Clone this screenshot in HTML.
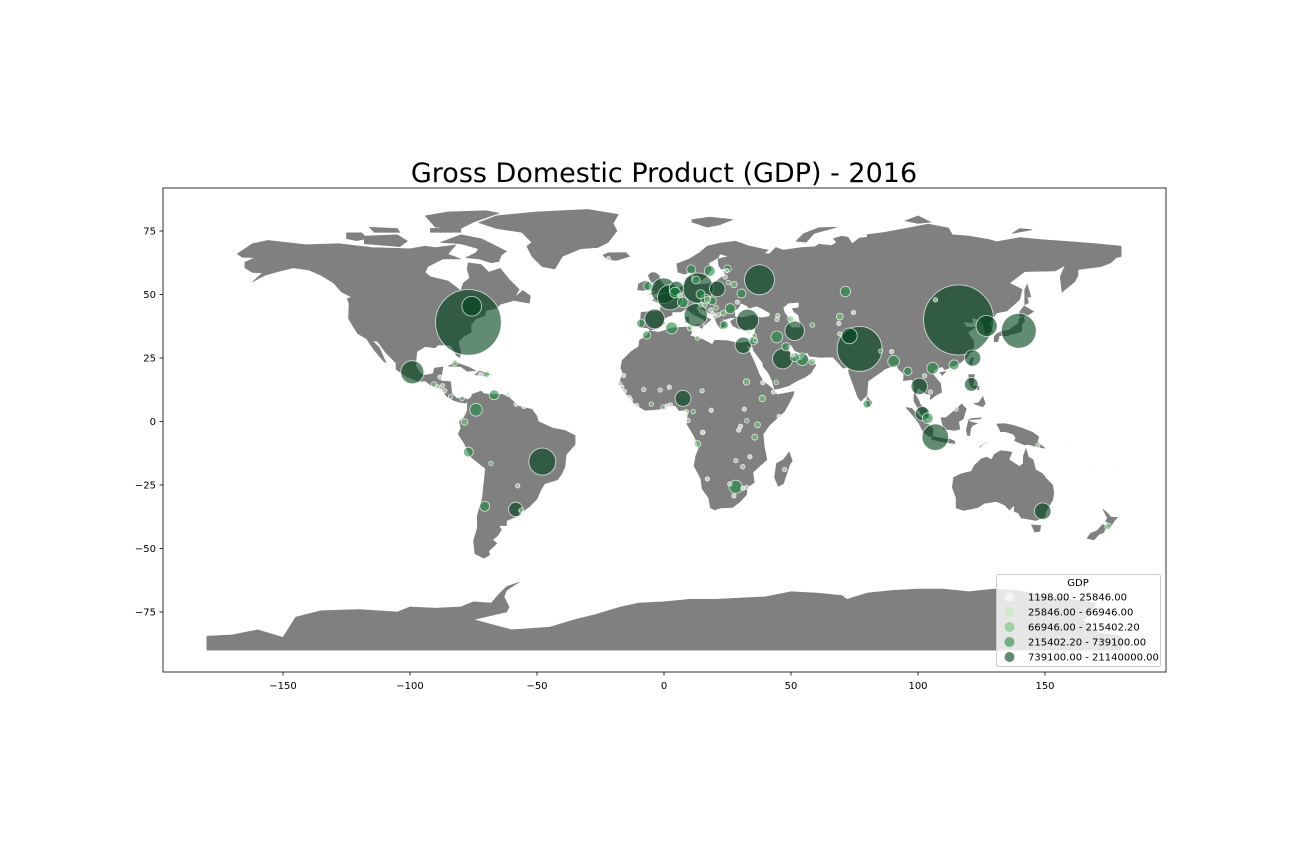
<!DOCTYPE html>
<html><head><meta charset="utf-8"><style>
body{margin:0;background:#fff;}
svg{display:block;font-family:"DejaVu Sans","Liberation Sans",sans-serif;}
</style></head><body>
<svg id="chart" width="1296" height="864" viewBox="0 0 1296 864" xmlns="http://www.w3.org/2000/svg">
<rect width="1296" height="864" fill="#fff"/>
<text x="664" y="182" font-size="27" text-anchor="middle" fill="#000">Gross Domestic Product (GDP) - 2016</text>
<defs><clipPath id="pa"><rect x="163" y="188" width="1003" height="484"/></clipPath></defs>
<g id="land" clip-path="url(#pa)"></g>
<g id="bubbles" clip-path="url(#pa)"></g>
<rect x="163" y="188" width="1003" height="484" fill="none" stroke="#000" stroke-width="0.8"/>
<g id="axes"></g>
<g id="legend"></g>
</svg>
<script>
const xTicks=[-150,-100,-50,0,50,100,150];
const yTicks=[75,50,25,0,-25,-50,-75];
const classBreaks=[25846,66946,215402.2,739100];
const legendLabels=["1198.00 - 25846.00","25846.00 - 66946.00","66946.00 - 215402.20","215402.20 - 739100.00","739100.00 - 21140000.00"];
const countries=["China","USA","India","Japan","Germany","Russia","Brazil","Indonesia","UK","France","Italy","Mexico","Turkey","South Korea","Saudi Arabia","Spain","Canada","Iran","Australia","Thailand","Egypt","Taiwan","Nigeria","Poland","Pakistan","Argentina","Netherlands","Malaysia","Philippines","South Africa","Colombia","UAE","Algeria","Vietnam","Bangladesh","Iraq","Belgium","Switzerland","Singapore","Sweden","Kazakhstan","Romania","Chile","Venezuela","Austria","Ukraine","Peru","Norway","Czechia","Qatar","Greece","Portugal","Israel","Denmark","Hong Kong","Morocco","Ireland","Hungary","Sri Lanka","Myanmar","Kuwait","Ethiopia","Finland","Kenya","Angola","Uzbekistan","Dominican Rep","Ecuador","New Zealand","Belarus","Azerbaijan","Oman","Tanzania","Ghana","Bulgaria","Serbia","Turkmenistan","Cuba","Guatemala","Tunisia","Sudan","Libya","Slovakia","Lithuania","Cote d'Ivoire","Panama","Croatia","Jordan","Bolivia","Uruguay","Cameroon","Costa Rica","Lebanon","Slovenia","Uganda","Yemen","Nepal","Paraguay","DR Congo","Latvia","Bahrain","Afghanistan","Zambia","Cambodia","Estonia","Honduras","El Salvador","Georgia","Senegal","Botswana","Trinidad","Bosnia","Laos","Mali","Zimbabwe","Mozambique","Madagascar","Armenia","Burkina Faso","Mongolia","Albania","N Macedonia","Jamaica","Nicaragua","Namibia","Niger","Chad","Kyrgyzstan","Tajikistan","Moldova","Mauritania","Rwanda","Guinea","Benin","Haiti","Malawi","Sierra Leone","Togo","Papua NG","Somalia","South Sudan","Gabon","Congo","CAR","Burundi","Eritrea","Liberia","Lesotho","Eswatini","Fiji","Belize","Guyana","Suriname","Bhutan","Timor-Leste","Gambia","Guinea-Bissau","Djibouti","Iceland","Cyprus","Luxembourg","Montenegro","Eq Guinea","Solomon Is","Vanuatu","Brunei"];
const lons=[116,-77,77,139.7,13.4,37.6,-47.9,106.8,-0.1,2.35,12.5,-99.1,32.9,127,46.7,-3.7,-75.7,51.4,149.1,100.5,31.2,121.5,7.5,21,73,-58.4,4.9,101.7,121,28.2,-74,54.4,3,105.8,90.4,44.4,4.35,7.4,103.8,18,71.4,26.1,-70.6,-66.9,16.4,30.5,-77,10.7,14.4,51.5,23.7,-9.1,35.2,12.6,114.2,-6.8,-6.3,19,79.9,96,48,38.7,25,36.8,13.2,69.2,-69.9,-78.5,174.8,27.6,49.9,58.4,35.7,-0.2,23.3,20.5,58.4,-82.4,-90.5,10.2,32.5,13.2,17.1,25.3,-5,-79.5,16,35.9,-68.1,-56.2,11.5,-84,35.5,14.5,32.6,44.2,85.3,-57.6,15.3,24.1,50.6,69.2,28.3,104.9,24.7,-87.2,-89.2,44.8,-17.4,25.9,-61.5,18.4,102.6,-8,31,32.6,47.5,44.5,-1.5,106.9,19.8,21.4,-76.8,-86.3,17.1,2.1,15,74.6,68.8,28.9,-15.9,30.1,-13.7,2.6,-72.3,33.8,-13.2,1.2,147.2,45.3,31.6,9.5,15.2,18.6,29.4,38.9,-10.8,27.5,31.1,178.4,-88.2,-58.2,-55.2,89.6,125.6,-16.6,-15.6,43.1,-21.9,33.4,6.1,19.3,8.8,160,168.3,115];
const lats=[40,39,28.6,35.7,52.5,55.8,-15.8,-6.2,51.5,48.9,41.9,19.4,39.9,37.6,24.7,40.4,45.4,35.7,-35.3,13.8,30,25,9.1,52.2,33.7,-34.6,52.4,3.1,14.6,-25.7,4.6,24.5,36.8,21,23.7,33.3,50.8,46.9,1.3,59.3,51.2,44.4,-33.4,10.5,48.2,50.4,-12,59.9,50.1,25.3,38,38.7,31.8,55.7,22.3,34,53.3,47.5,6.9,19.8,29.4,9,60.2,-1.3,-8.8,41.3,18.5,-0.2,-41.3,53.9,40.4,23.6,-6.2,5.6,42.7,44.8,38,23.1,14.6,36.8,15.6,32.9,48.1,54.7,6.8,9,45.8,31.9,-16.5,-34.9,3.9,9.9,33.9,46,0.3,15.4,27.7,-25.3,-4.3,56.9,26.2,34.5,-15.4,11.6,59.4,14.1,13.7,41.7,14.7,-24.6,10.7,43.9,18,12.6,-17.8,-25.9,-18.9,40.2,12.4,47.9,41.3,42,18,12.1,-22.6,13.5,12.1,42.9,38.6,47,18.1,-1.9,9.5,6.5,18.5,-13.9,8.5,6.1,-9.4,2,4.9,0.4,-4.3,4.4,-3.4,15.3,6.3,-29.3,-26.3,-18.1,17.5,6.8,5.9,27.5,-8.6,13.5,11.9,11.6,64.1,35.2,49.6,42.4,3.8,-9.4,-17.7,4.9];
const gdp=[21140000,18620000,8720000,5240000,3980000,3860000,3140000,3030000,2790000,2740000,2310000,2310000,2080000,1930000,1760000,1690000,1670000,1640000,1190000,1160000,1130000,1130000,1090000,1050000,1060000,880000,870000,864000,806000,739000,690000,667000,610000,595000,590000,596000,500000,490000,490000,498000,460000,450000,436000,420000,416000,350000,409000,364000,350000,340000,290000,300000,300000,270000,430000,280000,330000,270000,260000,300000,300000,180000,230000,150000,190000,200000,160000,180000,180000,170000,170000,180000,150000,120000,140000,100000,95000,130000,130000,130000,180000,90000,170000,85000,90000,90000,95000,85000,78000,75000,75000,80000,85000,68000,80000,75000,70000,65000,65000,50000,65000,65000,62000,58000,38000,43000,50000,37000,38000,36000,42000,42000,41000,37000,30000,35000,36000,26000,32000,36000,34000,30000,25000,33000,25000,20000,28000,21000,25000,19000,16000,21000,22000,23000,19000,20000,11000,11000,28000,6000,20000,35000,28000,3200,8000,9000,3700,6600,11000,8500,3000,6000,8000,6400,4000,3000,2800,3300,17000,30000,60000,10000,31000,1198,1200,33000];

const NS="http://www.w3.org/2000/svg";
const X0=664,Y0=421.5,K=2.54;
function px(lon){return X0+lon*K;}
function py(lat){return Y0-lat*K;}
function mk(tag,attrs,parent){const e=document.createElementNS(NS,tag);for(const k in attrs)e.setAttribute(k,attrs[k]);parent.appendChild(e);return e;}

const landShapes={
"north-america":[[-168,66],[-162,70],[-156,71.3],[-141,69.6],[-128,70],[-115,68.5],[-100,68],[-94,69],[-90,68.5],[-82,69.5],[-85,66],[-87,64],[-93,61],[-94,58.7],[-92,57],[-85,55.3],[-82,53],[-80,51.5],[-79,54.5],[-76.5,56.5],[-77.5,60],[-77,62.5],[-72,61.8],[-69,58.8],[-64.5,60.3],[-61,56],[-57,52],[-59.5,47.5],[-64.5,46.2],[-66,44.5],[-70,43.7],[-70.5,41.7],[-74,40.5],[-76,38],[-76,35],[-78.5,33.8],[-81,31.5],[-80,27],[-80.4,25.2],[-81.7,26],[-82.8,28],[-84,30],[-89,30.2],[-90,29],[-94,29.5],[-97.3,27.5],[-97.8,22],[-96,19],[-94.5,18.2],[-91,18.8],[-90.4,21],[-87,21.5],[-88,16],[-84,15.7],[-83.5,11],[-81.5,9],[-79,9.5],[-77.3,8.5],[-77.9,7.2],[-80,7.5],[-82.5,8.2],[-85.7,10],[-87.5,13],[-91.5,14],[-94,16],[-96.5,15.7],[-101,17.5],[-105.5,20.5],[-105.5,23],[-109.5,27],[-112.8,31.5],[-114.8,31.8],[-112,29],[-109.5,23.2],[-110.2,23.5],[-114,28],[-117.1,32.5],[-120.6,34.6],[-122.5,37.6],[-124.2,40.5],[-124,46.3],[-124.7,48.4],[-123,49],[-127,51],[-130,54.5],[-135,57.5],[-140,59.7],[-146,60.5],[-152,59],[-157,57.6],[-162,55],[-158,58.5],[-162,58.7],[-165,60.5],[-165,62.7],[-161,64.5],[-166,64.7],[-168,66]],
"greenland":[[-73,78.3],[-66,81],[-50,82.5],[-30,83.5],[-18,81.5],[-20,78],[-18.5,75],[-22,70.5],[-26,68.5],[-33,68],[-40,65],[-43,60],[-48,61],[-52,65],[-54,69],[-52,70.5],[-56,74.5],[-66,76],[-73,78.3]],
"baffin":[[-80,73.5],[-72,72],[-68,70],[-62,67],[-64,65.5],[-65,63],[-68,62.5],[-73,64],[-78,64.5],[-74,66.5],[-73,68],[-80,70],[-88,70.5],[-80,73.5]],
"victoria":[[-118,73],[-105,73.5],[-101,71],[-104,68.8],[-112,69.5],[-118,70],[-118,73]],
"ellesmere":[[-90,76.5],[-80,76],[-75,78.5],[-65,82],[-70,83],[-85,82.5],[-94,81],[-90,76.5]],
"banks":[[-125,74.3],[-119,74.3],[-117,72],[-121,71.2],[-125,72],[-125,74.3]],
"devon":[[-92,76],[-80,76.5],[-80,74.5],[-92,74.5]],
"melville":[[-116,76.5],[-105,76],[-104,74.5],[-114,74.5]],
"southampton":[[-87,64],[-80,64],[-85,65.8]],
"newfoundland":[[-59,47.6],[-53,46.6],[-52.6,49.4],[-55.6,51.6],[-58.8,48.8]],
"south-america":[[-77.3,8.5],[-76,9.5],[-75.5,10.7],[-72,12],[-71,11],[-68,10.6],[-64,10.7],[-61.5,10],[-60,8.5],[-57,6],[-52,4.8],[-50,2],[-49.5,0],[-44,-2.5],[-39,-3.5],[-35,-5.5],[-35,-9],[-38.5,-13],[-39,-18],[-40.5,-21],[-42,-23],[-47,-24.5],[-48.5,-27],[-50,-30.5],[-53,-33.5],[-55,-35],[-58,-34.5],[-57,-37],[-62,-39],[-62,-41],[-65,-41],[-64,-42.5],[-65.5,-45],[-67.5,-46.5],[-65.8,-48],[-69,-51],[-68.6,-52.5],[-71,-53.8],[-74.5,-52],[-75,-47],[-73.5,-42],[-73.5,-37],[-71.5,-30],[-70.3,-18.5],[-76,-14],[-79,-8],[-81,-5],[-80,-2.5],[-80.5,0],[-78.8,1.5],[-77.5,4],[-77.3,8.5]],
"africa":[[-17,21],[-16.5,24],[-13,27.5],[-10,29.5],[-9.6,32],[-6.5,34],[-5.8,35.8],[-2,35.1],[3,36.8],[10,37.3],[11,35],[10.2,33.8],[15.3,32.3],[19,30.3],[20,32],[25,31.8],[29,30.9],[32.5,31.2],[34.2,31.2],[34.9,29.5],[32.5,29.8],[35.5,23.5],[37.5,18.5],[39,16],[43.2,12.5],[44.5,10.5],[51.2,11.8],[51,10.5],[47.5,4],[41.5,-1.5],[39,-5],[39.5,-10],[40.5,-15],[35,-20],[35.5,-24],[32.8,-26],[32.5,-28.8],[30,-31.5],[27,-33.8],[22.5,-34],[20,-34.8],[18.3,-34],[17.5,-30],[15,-26.5],[14.5,-22.5],[11.8,-17.5],[12.5,-13.5],[13.7,-10.5],[12,-6],[9,-1],[9.5,3.5],[8.5,4.5],[5.9,4.3],[4.5,6.3],[1.5,6],[-2,4.8],[-7.5,4.4],[-11.5,6.9],[-13.3,9],[-15,11],[-16.8,13.2],[-17.5,14.7],[-16.3,19.5],[-17,21]],
"madagascar":[[49.3,-12],[50.5,-15.5],[49.5,-17],[47,-24.5],[45,-25.5],[43.5,-22],[44.3,-16.5],[47,-15],[49.3,-12]],
"eurasia":[[-9.5,37],[-9,43],[-1.5,43.5],[-1.2,46.2],[-4.5,47.8],[-1.5,49.5],[2,51],[4,51.5],[8.5,53.8],[8.6,56.5],[10.5,57.7],[10.5,55],[12.5,54.4],[14,53.9],[19,54.4],[21.2,55.7],[23,57],[24.3,57.5],[23.5,59.2],[28.5,60],[22.5,60],[21.5,61.5],[21.3,64],[25.5,65],[22,66],[21.3,64.5],[17.5,62.3],[18.8,60],[16.5,57],[14.5,55.5],[12.5,56.5],[10.8,59],[8,58],[5.5,58.8],[5,62],[10,64],[14,66.5],[17,69],[22,70.2],[28,71],[31,70],[33,69.2],[41,67.5],[38,65],[37,64],[34.5,65.5],[35.5,66.5],[41.5,66],[44,68.5],[47,67.5],[54,68.5],[59.5,68.8],[61,69.8],[66,69.3],[68,70.5],[66.7,72],[70,73],[72.5,72.5],[74,70],[77,72.3],[80,72.5],[80,73.6],[87,74.5],[95,76],[104,77.7],[112,76.2],[113.5,73.5],[120,73],[128,71.6],[131,70.8],[140,72.4],[150,71.5],[160,70.8],[170,70],[180,69],[180,65],[178,64.5],[176,62.5],[172,61],[163,59.8],[163,57.5],[161.7,55],[156.7,51],[156,57],[158,61.5],[154,59.3],[142,59],[136,54.5],[141,52],[140,48],[135,43.5],[131,42.7],[129.6,40.8],[128,39],[129.4,35.5],[126.5,34.5],[126,37.7],[124.5,39.8],[121.2,40.9],[121.5,38.8],[117.8,39.3],[119,37.2],[122.5,37.1],[119.6,35],[121.9,31.7],[122,29],[119.5,25.5],[116.5,23],[110.5,20.3],[109.5,21.6],[106.7,20.5],[105.7,18.7],[108.9,15],[109.3,11.5],[107,10.3],[104.8,8.6],[105,10.5],[103,11],[100,13.5],[99,10.5],[100.3,8.3],[101,6.5],[103.4,4.9],[104.2,1.4],[101.4,2.7],[98.4,8],[98.5,13.5],[97.7,16.5],[94.3,16.1],[94.4,18.8],[92.3,20.7],[91.5,22.6],[90,21.9],[86.7,20.5],[86,19.9],[80.3,15.9],[80.1,13],[79.9,10.3],[77.5,8],[76.3,9.5],[74.5,14.5],[72.8,19],[72.6,21.5],[70.5,21],[68.2,23.6],[66.5,25.4],[61.5,25.2],[57.3,25.7],[56.4,27.1],[54.5,26.6],[51.5,27.9],[50.1,30.1],[48,30],[50.2,26.5],[51.6,25.2],[51.6,24.2],[54,24.1],[56,26.3],[56.4,24.9],[59.8,22.3],[57.8,19],[55.5,17.5],[52.2,15.9],[49,14],[45,12.9],[43.5,12.7],[42.6,16],[40.9,19.5],[39,21.6],[38.9,23],[35.2,28],[34.9,29.5],[34.2,31.2],[35,32.8],[35.8,35],[36,36.9],[32.5,36.1],[29.5,36.5],[27,37.7],[26.2,39.5],[28.8,41],[26,40.8],[24,40.1],[22.7,40.5],[24.5,38],[22.5,36.4],[21,38.3],[19.4,41.8],[15.5,44],[13.7,45.1],[12.3,45.4],[14,42.5],[16.3,41.2],[18.5,40.2],[16,38],[15.9,40],[12.2,41.8],[10.5,43],[8.7,44.4],[6.5,43.1],[3.2,43.2],[3.2,41.9],[0.8,41],[-0.3,39.4],[0.2,38.7],[-2.2,36.7],[-5.3,36],[-6.5,36.9],[-9.5,37]],
"great-britain":[[-5.7,50],[1.5,51.2],[1.7,52.7],[0.2,53.5],[-1.5,55.5],[-2,57.6],[-3.5,58.6],[-5,58.6],[-6.2,57.5],[-5.6,56],[-4.8,54.8],[-3,54],[-4.5,53.2],[-4.5,52],[-5.2,51.7],[-3,51.4],[-5.7,50]],
"ireland":[[-6,52.2],[-6.2,54],[-5.7,55],[-7.5,55.3],[-10,54.2],[-10.4,51.8],[-8,51.6],[-6,52.2]],
"iceland":[[-24,65.5],[-22,66.4],[-15,66.5],[-13.5,65],[-18.7,63.4],[-22.5,63.8],[-24,65.5]],
"honshu":[[130,31.3],[131.5,31.5],[132,33.8],[135,33.7],[136.5,34.3],[139,34.8],[140.8,35.5],[141,38.5],[142,39.5],[141.4,41.4],[139.9,40.5],[139.5,38.5],[137,37],[136,36],[133,35.5],[131,34.5],[130,33.5],[130,31.3]],
"hokkaido":[[140,41.5],[141.4,41.6],[143.5,42],[145.5,43.3],[141.8,45.5],[140,43.2],[140,41.5]],
"sakhalin":[[142,46],[143.5,46.7],[143,49],[144.5,49],[143,54],[142,52],[142,46]],
"taiwan":[[120.1,23],[121,22],[121.9,25],[121,25.1],[120.1,23]],
"hainan":[[108.6,19.2],[111,19.7],[109.5,18.2]],
"sri-lanka":[[79.8,8.2],[80,9.8],[81.8,7.5],[81.3,6.2],[80.1,6],[79.8,8.2]],
"sumatra":[[95.3,5.5],[97.5,5.2],[100.5,2],[104,-1],[106,-3],[105.8,-5.8],[104.5,-5.9],[102,-4],[100.5,-1],[98.6,1.7],[95.3,5.5]],
"java":[[105.2,-6.8],[106,-5.9],[110.5,-6.9],[112.6,-6.9],[114.5,-7.8],[114.5,-8.7],[110,-8.1],[106.4,-7.3],[105.2,-6.8]],
"borneo":[[109,1.5],[109.6,-1],[110.2,-3],[114.5,-3.5],[116.5,-3],[116,0],[117.8,1],[119,5],[117.2,6.9],[115.5,5.3],[113,3.2],[111,1.5],[109,1.5]],
"sulawesi":[[119.5,-5.5],[120.4,-5.5],[120.8,-2.6],[121.6,-1.5],[123.3,-0.8],[120.5,-0.1],[120,0.7],[124.5,1],[125,1.5],[120.8,1.2],[119.8,0],[119,-3.5],[119.5,-5.5]],
"new-guinea":[[131,-1],[134,-0.8],[137.5,-1.5],[141,-2.6],[145,-4.2],[147.5,-6],[147,-8],[150,-10.5],[147,-10],[143.5,-9],[142,-9.2],[139,-8],[138,-7.5],[138.5,-6.5],[137.5,-5],[134.5,-4],[132.5,-4],[132,-2.8],[131,-1]],
"timor":[[124,-10.2],[127,-8.4],[125,-9.5]],
"luzon":[[120,18.5],[122.2,18.5],[122,16],[121.5,14],[124,13.8],[124,12.5],[121,13.5],[120.6,14.5],[120,16],[120,18.5]],
"mindanao":[[122,7],[124,7.5],[125.5,9.8],[126.5,7],[125.5,5.8],[124,6.3],[122,7]],
"australia":[[114,-22],[113.5,-26],[115,-30],[115,-34],[118,-35],[123.5,-33.9],[126,-32.3],[131,-31.5],[134,-32.8],[136,-34.8],[137.8,-33],[138,-35.5],[139.5,-36],[140.6,-38],[144,-38.5],[146.3,-39],[150,-37.5],[150.2,-35.7],[153,-31],[153.5,-28],[153,-25],[150.5,-22.5],[149,-20.5],[146.3,-19],[145.3,-15],[143.5,-14],[142.5,-10.7],[141.5,-13.5],[141.4,-16.5],[140,-17.7],[137,-15.8],[135.8,-15],[137,-12.2],[136,-11.9],[132.5,-11.5],[130,-13],[129,-15],[127,-14],[125,-14.6],[122.2,-17.3],[121,-19.6],[117,-20.6],[114,-22]],
"tasmania":[[144.7,-40.7],[148.3,-40.9],[148,-43.2],[146,-43.6],[144.7,-40.7]],
"nz-north":[[172.7,-34.5],[174.5,-36],[176,-37.6],[178.5,-37.7],[177,-39.5],[176,-41.3],[175,-41.5],[174.6,-39.7],[173.8,-39.2],[174.6,-38],[172.7,-34.5]],
"nz-south":[[172.7,-40.5],[174.3,-41.3],[173,-43.8],[171.2,-44.5],[169.3,-46.6],[166.5,-46],[168,-44],[170.5,-43],[172.7,-40.5]],
"antarctica":[[-180,-90],[-180,-84.5],[-170,-84],[-160,-82],[-150,-85],[-145,-77],[-135,-74.5],[-120,-74],[-105,-75],[-100,-73],[-90,-73.5],[-80,-73],[-75,-71],[-68,-71.5],[-65,-68],[-62,-65],[-57,-63.3],[-59,-64.5],[-62,-66.5],[-63,-69],[-61,-73],[-62,-75],[-75,-78],[-60,-82],[-45,-81],[-35,-78],[-27,-76],[-17,-73],[-10,-71.5],[0,-71],[10,-70],[20,-70],[30,-69.5],[40,-69],[50,-67],[60,-67.5],[70,-68.5],[72,-70],[80,-67.5],[90,-66.5],[100,-66],[110,-66],[120,-67],[130,-66],[140,-66.7],[150,-68.5],[160,-70],[170,-71.5],[168,-76],[165,-78],[170,-83],[180,-84.5],[180,-90]],
"svalbard":[[11,78.5],[17,76.5],[22,77.5],[27,79.5],[18,80.5],[11,79.5]],
"novaya-zemlya":[[52,71],[56,70.6],[59,74],[68,76.5],[61,76.3],[55,74],[52,71]],
"severnaya-zemlya":[[95,79],[100,78],[105,78.5],[100,81]],
"new-siberian":[[137,74],[145,75.5],[140,76]],
"cuba":[[-85,21.8],[-82,23.2],[-77,21.5],[-74.2,20],[-77.5,19.8],[-80,21.6],[-85,21.8]],
"hispaniola":[[-74.4,18.4],[-72.8,19.9],[-68.3,18.6],[-71,18],[-74.4,18.4]],
"sardinia":[[8.5,39],[9.8,39],[9.6,41.2],[8.4,41]],
"sicily":[[12.4,38],[15.6,38.2],[15,36.6]]
};
const waterShapes={
"black-sea":[[28,41.3],[31,41.1],[35,42],[38.3,40.9],[41.5,41.5],[41.6,42.6],[38.3,44.5],[36.5,45.3],[33.5,44.5],[32.5,45.5],[30.2,46.5],[29.6,45],[28,43.5],[28,41.3]],
"caspian-sea":[[47,44.8],[49,46.5],[53,46.8],[53,45],[50.3,44.5],[51.2,43],[52.8,41.9],[53.9,37],[50.5,37],[49,38.3],[49.5,40.3],[47.5,43],[47,44.8]]
};
function ptsStr(a){return a.map(p=>px(p[0]).toFixed(1)+","+py(p[1]).toFixed(1)).join(" ");}
const land=document.getElementById('land');
for(const k in landShapes){
  const e=mk('polygon',{points:ptsStr(landShapes[k]),fill:'#808080',stroke:'#808080','stroke-width':'0.6'},land);
  
  
}
for(const k in waterShapes){
  const e=mk('polygon',{points:ptsStr(waterShapes[k]),fill:'#fff'},land);
  
  
}

const fills=['#f7fcf5','#c7e9c0','#74c476','#238b45','#00441b'];
function cls(v){let c=0;for(const b of classBreaks){if(v>b)c++;}return c;}
const maxG=Math.max(...gdp);
function rad(v){return 35*Math.sqrt(v/maxG);}
const bub=document.getElementById('bubbles');
const order=gdp.map((v,i)=>i).sort((a,b)=>gdp[b]-gdp[a]);
for(const i of order){
  const c=cls(gdp[i]);
  const e=mk('circle',{cx:px(lons[i]).toFixed(1),cy:py(lats[i]).toFixed(1),r:Math.max(rad(gdp[i]),2.2).toFixed(2),fill:fills[c],'fill-opacity':'0.62',stroke:'#fff','stroke-opacity':'0.7','stroke-width':'0.9'},bub);
  
  
}

const ax=document.getElementById('axes');
xTicks.forEach(t=>{
  const x=px(t);
  const l=mk('line',{x1:x,x2:x,y1:672,y2:675.5,stroke:'#000','stroke-width':'0.8'},ax);
  
  
  const tx=mk('text',{x:x,y:689,'font-size':'10','text-anchor':'middle',fill:'#000'},ax);
  tx.textContent=(t<0?'\u2212'+(-t):''+t);
  
  
});
yTicks.forEach(t=>{
  const y=py(t);
  const l=mk('line',{x1:159.5,x2:163,y1:y,y2:y,stroke:'#000','stroke-width':'0.8'},ax);
  
  
  const tx=mk('text',{x:156,y:y+3.5,'font-size':'10','text-anchor':'end',fill:'#000'},ax);
  tx.textContent=(t<0?'\u2212'+(-t):''+t);
  
  
});

const lg=document.getElementById('legend');
const lb=mk('rect',{x:996.5,y:574.5,width:164,height:92,rx:2,fill:'#fff','fill-opacity':'0.8',stroke:'#ccc','stroke-width':'1'},lg);


const lt=mk('text',{x:1078,y:586,'font-size':'10','text-anchor':'middle',fill:'#000'},lg);
lt.textContent='GDP';


legendLabels.forEach((s,i)=>{
  const y=597+i*15;
  const g=mk('g',{},lg);
  
  
  mk('circle',{cx:1009.5,cy:y,r:5,fill:fills[i],'fill-opacity':'0.62'},g);
  const t=mk('text',{x:1028,y:y+3.5,'font-size':'10',fill:'#000'},g);
  t.textContent=s;
});
</script>
</body></html>
